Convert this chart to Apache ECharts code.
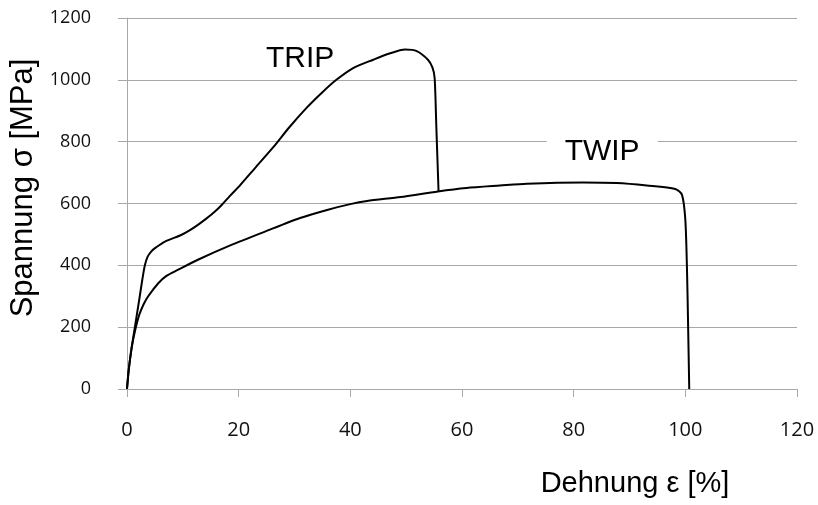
<!DOCTYPE html>
<html>
<head>
<meta charset="utf-8">
<script src="https://cdn.jsdelivr.net/npm/echarts@6/dist/echarts.min.js"></script>
<style>
  html, body { margin: 0; padding: 0; background: #fff; }
  #chart { width: 818px; height: 505px; }
</style>
</head>
<body>
<div id="chart"></div>
<script>
// Strain (%) / stress (MPa) pairs
const tripStrain = [0, 0.3, 0.8, 1.5, 2.2, 2.8, 3.2, 3.7, 4.4, 5.2, 6.8, 9.7, 11.2, 12.7, 14.2, 15.7, 17.0, 18.4, 20.2, 23.0, 26.2, 29.0, 32.2, 35.0, 37.5, 40.5, 44.1, 47.0, 49.8, 51.9, 53.9, 54.7, 55.1, 55.4, 55.8];
const tripStress = [0, 60, 130, 210, 290, 360, 400, 428, 446, 458, 477, 498, 513, 531, 551, 573, 596, 624, 658, 716, 782, 845, 910, 960, 1000, 1038, 1065, 1085, 1098, 1093, 1065, 1040, 1006, 850, 639];

const twipStrain = [0, 0.3, 0.8, 1.4, 2.2, 3.0, 3.8, 5.6, 7.0, 9.1, 12.7, 18.7, 24.7, 31.0, 36.0, 40.0, 43.0, 49.0, 55.7, 60.8, 66.8, 71.6, 81.7, 87.7, 93.1, 98.2, 99.4, 100.0, 100.3, 100.5, 100.7];
const twipStress = [0, 60, 130, 185, 240, 275, 300, 342, 365, 385, 418, 466, 509, 553, 580, 598, 608, 621, 639, 650, 658, 664, 668, 666, 658, 647, 628, 547, 385, 202, 0];

const xTicks = [0, 20, 40, 60, 80, 100, 120];
const yTicks = [0, 200, 400, 600, 800, 1000, 1200];

const seriesNames = ['TRIP', 'TWIP'];
const labelPos = { TRIP: [31, 1068], TWIP: [85.1, 768] };

const xTitle = 'Dehnung ε [%]';
const yTitle = 'Spannung σ [MPa]';

function pairs(xs, ys) { return xs.map((x, i) => [x, ys[i]]); }

const chart = echarts.init(document.getElementById('chart'), null, { renderer: 'canvas' });
const gridColor = '#a8a8a8';

chart.setOption({
  animation: false,
  backgroundColor: '#ffffff',
  grid: { left: 127, right: 21, top: 18, bottom: 116 },
  xAxis: {
    type: 'value',
    min: xTicks[0], max: xTicks[xTicks.length - 1], interval: 20,
    axisLine: { show: true, lineStyle: { color: gridColor, width: 1 } },
    axisTick: { show: true, length: 8, inside: false, lineStyle: { color: gridColor } },
    splitLine: { show: false },
    axisLabel: { color: '#111', fontFamily: 'Open Sans', fontSize: 20, margin: 31, formatter: v => String(v) }
  },
  yAxis: {
    type: 'value',
    min: yTicks[0], max: yTicks[yTicks.length - 1], interval: 200,
    axisLine: { show: true, lineStyle: { color: gridColor, width: 1 } },
    axisTick: { show: true, length: 9, inside: false, lineStyle: { color: gridColor } },
    splitLine: { show: true, lineStyle: { color: gridColor, width: 1 } },
    axisLabel: { color: '#111', fontFamily: 'Open Sans', fontSize: 18, margin: 36, formatter: v => String(v) }
  },
  graphic: [
    {
      type: 'text', x: 23, y: 188, rotation: Math.PI / 2,
      style: { text: yTitle, fill: '#000', font: '31px "Liberation Sans", Arial, sans-serif', align: 'center', verticalAlign: 'middle' }
    },
    {
      type: 'text', x: 635, y: 484,
      style: { text: xTitle, fill: '#000', font: '29px "Liberation Sans", Arial, sans-serif', align: 'center', verticalAlign: 'middle' }
    }
  ],
  series: seriesNames.map((name, k) => ({
    name: name,
    type: 'line',
    data: k === 0 ? pairs(tripStrain, tripStress) : pairs(twipStrain, twipStress),
    showSymbol: false,
    symbol: 'none',
    smooth: 0.25,
    lineStyle: { color: '#000', width: 2 },
    z: 3,
    markPoint: {
      symbol: 'circle', symbolSize: 0,
      silent: true,
      data: [{ coord: labelPos[name] }],
      label: {
        show: true, position: 'inside', formatter: name,
        color: '#000', fontFamily: 'Liberation Sans', fontSize: 30,
        backgroundColor: k === 1 ? '#ffffff' : 'transparent',
        padding: k === 1 ? [10, 18, 6, 18] : 0
      }
    }
  }))
});
</script>
</body>
</html>
